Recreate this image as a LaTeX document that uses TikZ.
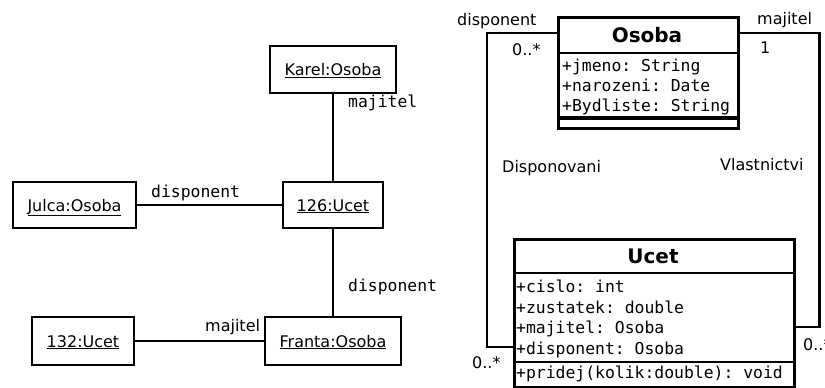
\documentclass[tikz,border=0pt]{standalone}
\usepackage{fontspec}
\setmainfont{DejaVu Sans}
\setmonofont{DejaVu Sans Mono}
\begin{document}
\begin{tikzpicture}[x=1pt,y=-1pt,
  obj/.style={draw, line width=2.6pt, inner sep=0pt, text height=12pt, text depth=0pt,
    font=\fontsize{16}{19}\selectfont},
  classbox/.style={draw, line width=2.6pt, inner sep=0pt, anchor=north west},
  sep/.style={line width=2.4pt},
  link/.style={line width=2.3pt},
  title/.style={inner sep=0pt, anchor=base, font=\fontsize{20}{24}\selectfont\bfseries},
  attr/.style={inner sep=0pt, anchor=base west, font=\fontsize{16.4}{20}\selectfont\ttfamily},
  lbl/.style={inner sep=0pt, anchor=base west, font=\fontsize{16}{19}\selectfont},
  mlbl/.style={inner sep=0pt, anchor=base west, font=\fontsize{16.4}{19}\selectfont\ttfamily}]
\useasboundingbox (0,0) rectangle (825,388);

% ---------- object diagram ----------
\node[obj, minimum width=126pt, minimum height=47pt] (karel)  at (333,69.5) {\underline{Karel:Osoba}};
\node[obj, minimum width=123pt, minimum height=46pt] (julca)  at (74.5,205) {\underline{Julca:Osoba}};
\node[obj, minimum width=100pt, minimum height=46pt] (u126)   at (333,205)  {\underline{126:Ucet}};
\node[obj, minimum width=102pt, minimum height=48pt] (u132)   at (83,341)   {\underline{132:Ucet}};
\node[obj, minimum width=136pt, minimum height=48pt] (franta) at (333,341)  {\underline{Franta:Osoba}};

\draw[link] (karel.south) -- (u126.north);
\draw[link] (julca.east) -- (u126.west);
\draw[link] (u126.south) -- (franta.north);
\draw[link] (u132.east) -- (franta.west);

\node[mlbl] (lk) at (348,107) {majitel};
\node[mlbl] (lj) at (151,197) {disponent};
\node[mlbl] (lf) at (348,291) {disponent};
\node[lbl]  (lm) at (205,331) {majitel};

% ---------- class diagram ----------
% class Osoba
\node[classbox, minimum width=180pt, minimum height=111pt] (osoba) at (557,16) {};
\draw[sep] ([yshift=-37pt]osoba.north west) -- ([yshift=-37pt]osoba.north east);
\draw[line width=3.6pt] ([yshift=-102pt]osoba.north west) -- ([yshift=-102pt]osoba.north east);
\node[title] (osobaT) at (647,42) {Osoba};
\node[attr] (oa1) at (562,71.5)  {+jmeno: String};
\node[attr] (oa2) at (562,91.5)  {+narozeni: Date};
\node[attr] (oa3) at (562,111.8) {+Bydliste: String};

% class Ucet
\node[classbox, minimum width=280pt, minimum height=148pt] (ucet) at (513,238) {};
\draw[sep] ([yshift=-35pt]ucet.north west) -- ([yshift=-35pt]ucet.north east);
\draw[sep] ([yshift=-124pt]ucet.north west) -- ([yshift=-124pt]ucet.north east);
\node[title] (ucetT) at (653,263) {Ucet};
\node[attr] (ua1) at (516,292.7) {+cislo: int};
\node[attr] (ua2) at (516,313)   {+zustatek: double};
\node[attr] (ua3) at (516,333.3) {+majitel: Osoba};
\node[attr] (ua4) at (516,354)   {+disponent: Osoba};
\node[attr] (uo1) at (516,378)   {+pridej(kolik:double): void};

% associations
\draw[link] ([yshift=-17pt]osoba.north west) -- ++(-70,0) |- ([yshift=-109pt]ucet.north west);
\draw[link] ([yshift=-17pt]osoba.north east) -- ++(80,0) |- ([yshift=-89pt]ucet.north east);

\node[lbl] (r1) at (457,25)  {disponent};
\node[lbl] (r2) at (512,55)  {0..*};
\node[lbl] (r3) at (757,24)  {majitel};
\node[lbl] (r4) at (760,53)  {1};
\node[lbl] (r5) at (502,172) {Disponovani};
\node[lbl] (r6) at (720,170) {Vlastnictvi};
\node[lbl] (r7) at (472,368) {0..*};
\node[lbl] (r8) at (803,350) {0..*};
\end{tikzpicture}
\end{document}
